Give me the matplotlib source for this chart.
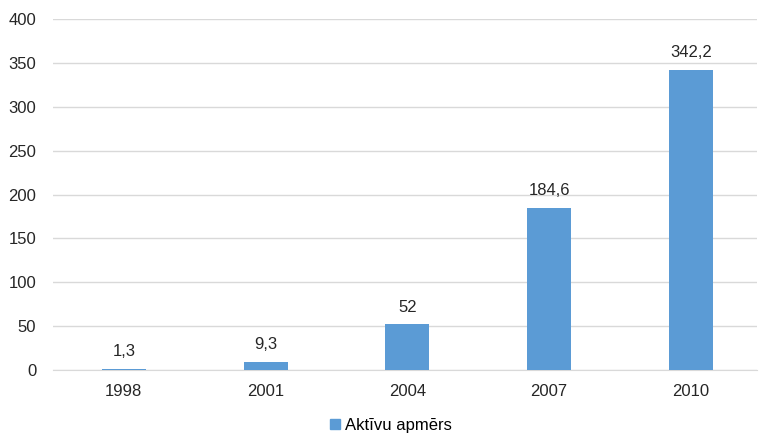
import matplotlib
matplotlib.use("Agg")
import matplotlib.pyplot as plt
from matplotlib.patches import Patch

years = ["1998", "2001", "2004", "2007", "2010"]
values = [1.3, 9.3, 52, 184.6, 342.2]
labels = ["1,3", "9,3", "52", "184,6", "342,2"]
series_name = "Aktīvu apmērs"

plt.rcParams['font.family'] = ['Liberation Sans', 'DejaVu Sans']
FS = 12

fig = plt.figure(figsize=(7.6, 4.34), dpi=100)
ax = fig.add_axes([0.0697, 0.1475, 0.927, 0.8085])

x = list(range(len(years)))
bars = ax.bar(x, values, width=0.31, color="#5B9BD5", zorder=3)
for xi, v, lab in zip(x, values, labels):
    ax.annotate(lab, (xi, v), xytext=(0, 7), textcoords="offset points",
                ha="center", va="bottom", fontsize=FS, color="#262626")

ax.set_xlim(-0.5, len(years) - 0.53)
ax.set_ylim(0, 400)
ax.set_yticks(range(0, 401, 50))
ax.set_xticks(x)
ax.set_xticklabels(years)
ax.tick_params(axis="both", length=0, labelsize=FS, colors="#262626")
ax.tick_params(axis="y", pad=12)
ax.tick_params(axis="x", pad=10)
ax.grid(axis="y", color="#D9D9D9", linewidth=1, zorder=0)
for s in ["top", "right", "left"]:
    ax.spines[s].set_visible(False)
ax.spines["bottom"].set_color("#D9D9D9")

handle = Patch(color="#5B9BD5")
fig.legend([handle], [series_name], loc="center", bbox_to_anchor=(0.515, 0.02), frameon=False,
           fontsize=FS, handlelength=0.6, handleheight=0.6, handletextpad=0.3)

fig.savefig("out.png", dpi=100)
